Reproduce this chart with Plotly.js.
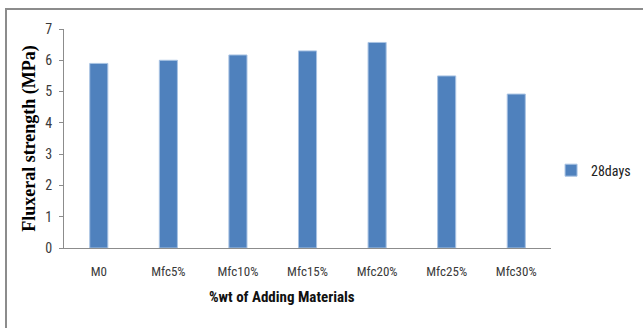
<!DOCTYPE html>
<html>
<head>
<meta charset="utf-8">
<script src="https://cdn.plot.ly/plotly-3.0.1.min.js"></script>
<style>
html,body{margin:0;padding:0;background:#fff;}
#frame{position:absolute;left:5px;top:8px;width:660px;height:340px;border-left:2px solid #8c8c8c;border-top:2px solid #8c8c8c;}
#chart{position:absolute;left:0;top:0;width:643px;height:328px;}
</style>
</head>
<body>
<div id="frame"></div>
<div id="chart"></div>
<script>
const categories = ["M0", "Mfc5%", "Mfc10%", "Mfc15%", "Mfc20%", "Mfc25%", "Mfc30%"];
const values28days = [5.9, 6.0, 6.17, 6.3, 6.57, 5.5, 4.92];
const seriesName = "28days";
const yTicks = [0, 1, 2, 3, 4, 5, 6, 7];

const narrow = '"Liberation Sans Narrow", "Roboto Condensed", "DejaVu Sans Condensed", Roboto, sans-serif';

Plotly.newPlot('chart', [{
  type: 'bar',
  x: categories,
  y: values28days,
  name: seriesName,
  width: 0.26,
  marker: {color: '#4F81BD', line: {color: '#a9c3e3', width: 1}},
  showlegend: true
}], {
  width: 643, height: 328,
  margin: {l: 64, r: 83, t: 29, b: 80},
  paper_bgcolor: 'rgba(0,0,0,0)',
  plot_bgcolor: 'rgba(0,0,0,0)',
  bargap: 0.74,
  xaxis: {
    type: 'category',
    showline: true, linecolor: '#8c8c8c', linewidth: 1,
    showgrid: false, zeroline: false,
    ticks: '', ticklabelstandoff: 11,
    tickfont: {family: narrow, size: 13, color: '#3a3a3a'},
    automargin: false
  },
  yaxis: {
    range: [0, 7],
    tickvals: yTicks,
    showline: true, linecolor: '#8c8c8c', linewidth: 1,
    showgrid: false, zeroline: false,
    ticks: 'outside', ticklen: 4, tickcolor: '#8c8c8c', ticklabelstandoff: 4,
    tickfont: {family: narrow, size: 14, color: '#3a3a3a'},
    title: {text: '<b>Fluxeral strength (MPa)</b>', font: {family: '"Liberation Serif", "Times New Roman", serif', size: 18, color: '#000'}, standoff: 4},
    automargin: false
  },
  font: {family: narrow},
  legend: {
    xref: 'container', yref: 'container',
    x: 0.857, xanchor: 'left', y: 0.48, yanchor: 'middle',
    font: {family: narrow, size: 14, color: '#222'},
    bgcolor: 'rgba(0,0,0,0)', itemwidth: 30
  },
  annotations: [{
    text: '<b>%wt of Adding Materials</b>',
    xref: 'paper', yref: 'paper', x: 0.448, y: -0.225, xanchor: 'center', yanchor: 'middle',
    showarrow: false,
    font: {family: narrow, size: 15, color: '#111'}
  }]
}, {displayModeBar: false, staticPlot: true});
</script>
</body>
</html>
